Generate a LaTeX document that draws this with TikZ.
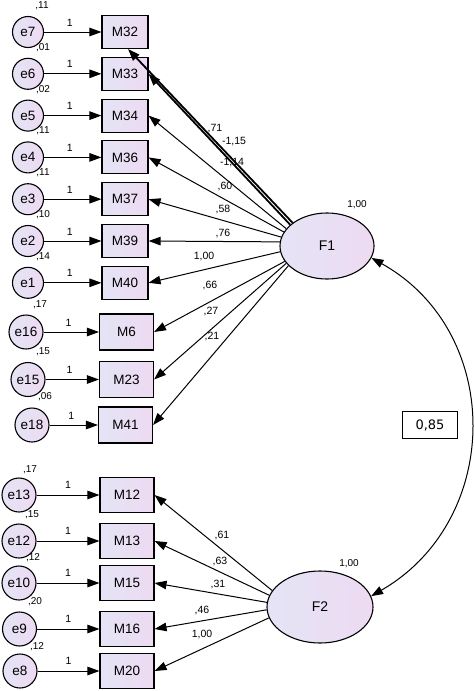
\documentclass[tikz,border=0pt]{standalone}
\usepackage{fontspec}
\setmainfont{Liberation Sans}
\newfontfamily\djv{DejaVu Sans}
\usetikzlibrary{arrows.meta,shapes.geometric}
\definecolor{lavA}{RGB}{228,228,245}
\definecolor{lavB}{RGB}{238,218,242}
\begin{document}
\begin{tikzpicture}[x=1pt,y=-1pt,
  obs/.style={draw,line width=1.1pt,left color=lavA,right color=lavB,minimum width=46pt,minimum height=33pt,inner sep=0pt,font=\fontsize{13.5}{15}\selectfont},
  obsb/.style={obs,minimum width=54pt,minimum height=36pt},
  err/.style={circle,draw,line width=1.1pt,left color=lavA,right color=lavB,minimum size=31pt,inner sep=0pt,font=\fontsize{13.5}{15}\selectfont},
  errb/.style={err,minimum size=34pt},
  lat/.style={ellipse,draw,line width=1.1pt,left color=lavA,right color=lavB,inner sep=0pt,font=\fontsize{14}{16}\selectfont},
  arr/.style={-{Triangle[length=12pt,width=8.5pt]},line width=1pt},
  arrb/.style={arr,line width=1.8pt},
  lab/.style={font=\fontsize{10.5}{12}\selectfont,inner sep=0pt},
  var/.style={font=\fontsize{10}{11}\selectfont,inner sep=0pt},
  one/.style={font=\fontsize{10.5}{12}\selectfont,inner sep=0pt}]
\useasboundingbox (0,0) rectangle (474,691);

% ---------- F1 group ----------
\node[err] (e7) at (28,32) {e7};
\node[err] (e6) at (28,73.8) {e6};
\node[err] (e5) at (28,115.6) {e5};
\node[err] (e4) at (28,157.4) {e4};
\node[err] (e3) at (28,199.2) {e3};
\node[err] (e2) at (28,241) {e2};
\node[err] (e1) at (28,282.8) {e1};
\node[errb] (e16) at (26,332) {e16};
\node[errb] (e15) at (28,379.5) {e15};
\node[errb] (e18) at (32,425) {e18};

\node[obs] (M32) at (125,32) {M32};
\node[obs] (M33) at (125,73.8) {M33};
\node[obs] (M34) at (125,115.6) {M34};
\node[obs] (M36) at (125,157.4) {M36};
\node[obs] (M37) at (125,199.2) {M37};
\node[obs] (M39) at (125,241) {M39};
\node[obs] (M40) at (125,282.8) {M40};
\node[obsb] (M6) at (126.5,332) {M6};
\node[obsb] (M23) at (126.5,379.5) {M23};
\node[obsb] (M41) at (125.5,425) {M41};

\node[var] (v7) at (42,6) {,11};
\node[var] (v6) at (43,47.5) {,01};
\node[var] (v5) at (43,89.5) {,02};
\node[var] (v4) at (43,131) {,11};
\node[var] (v3) at (43,173) {,11};
\node[var] (v2) at (43,215) {,10};
\node[var] (v1) at (43,257) {,14};
\node[var] (v16) at (40,305) {,17};
\node[var] (v15) at (43,352) {,15};
\node[var] (v18) at (45,397) {,06};

\foreach \e/\m in {e7/M32,e6/M33,e5/M34,e4/M36,e3/M37,e2/M39,e1/M40,e16/M6,e15/M23,e18/M41}{
  \draw[arr] (\e) -- (\m);
  \path (\e) -- node[one,pos=0.45,yshift=9.5pt] (o\e) {1} (\m);
}

\node[lat,minimum width=94pt,minimum height=66pt] (F1) at (327,246) {F1};
\node[var] (vF1) at (357,205) {1,00};

\draw[arrb] (F1.146) -- (M32.-80);
\draw[arrb] (F1.150) -- (M33.east);
\foreach \a/\m in {157/M34,162/M36,169/M37,175/M39,187/M40,200/M6,203/M23,207/M41}{
  \draw[arr] (F1.\a) -- (\m.east);
}

\node[lab] (l32) at (215,129) {,71};
\node[lab] (l33) at (234,142) {-1,15};
\node[lab] (l34) at (232,163) {-1,14};
\node[lab] (l36) at (225,187) {,60};
\node[lab] (l37) at (223,210) {,58};
\node[lab] (l39) at (223,234) {,76};
\node[lab] (l40) at (204,257) {1,00};
\node[lab] (l6) at (210,286) {,66};
\node[lab] (l23) at (211,312) {,27};
\node[lab] (l41) at (212,337) {,21};

% ---------- F2 group ----------
\node[errb] (e13) at (19,495) {e13};
\node[errb] (e12) at (19,541) {e12};
\node[errb] (e10) at (19,583) {e10};
\node[errb] (e9) at (19.5,629) {e9};
\node[errb] (e8) at (20,671) {e8};

\node[obsb,minimum height=35pt] (M12) at (127,495) {M12};
\node[obsb,minimum height=35pt] (M13) at (127,541) {M13};
\node[obsb,minimum height=35pt] (M15) at (127,583) {M15};
\node[obsb,minimum height=35pt] (M16) at (127,629) {M16};
\node[obsb,minimum height=35pt] (M20) at (127,671) {M20};

\node[var] (v13) at (30,470) {,17};
\node[var] (v12) at (32,515) {,15};
\node[var] (v10) at (33,558) {,12};
\node[var] (v9) at (35,602) {,20};
\node[var] (v8) at (37,647) {,12};

\foreach \e/\m in {e13/M12,e12/M13,e10/M15,e9/M16,e8/M20}{
  \draw[arr] (\e) -- (\m);
  \path (\e) -- node[one,pos=0.5,yshift=10.5pt] (o\e) {1} (\m);
}

\node[lat,minimum width=106pt,minimum height=72pt] (F2) at (320,607) {F2};
\node[var] (vF2) at (349,564) {1,00};

\foreach \a/\m in {161/M12,167/M13,175/M15,183/M16,192/M20}{
  \draw[arr] (F2.\a) -- (\m.east);
}

\node[lab] (l12) at (222,535) {,61};
\node[lab] (l13) at (220,561) {,63};
\node[lab] (l15) at (218,584) {,31};
\node[lab] (l16) at (202,610) {,46};
\node[lab] (l20) at (202,634) {1,00};

% ---------- covariance ----------
\draw[{Triangle[length=12pt,width=8.5pt]}-{Triangle[length=12pt,width=8.5pt]},line width=1pt]
  (F1.-15) .. controls (504,332) and (503,520) .. (F2.12);
\node[draw,fill=white,line width=1pt,minimum width=55pt,minimum height=27pt,inner sep=0pt,font=\djv\fontsize{13}{15}\selectfont] (cov) at (430,425) {0,85};
\end{tikzpicture}
\end{document}
